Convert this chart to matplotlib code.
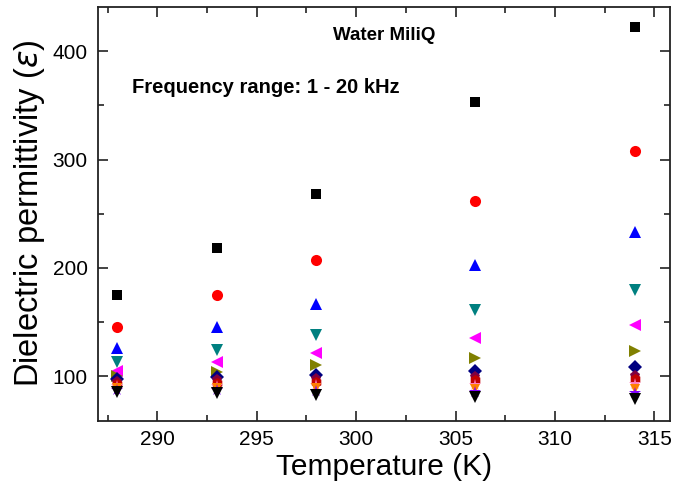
import matplotlib.pyplot as plt
from matplotlib.ticker import MultipleLocator

temps = [288, 293, 298, 306, 314]

# dielectric permittivity per frequency
eps_1 = [175, 218, 268, 353, 422]
eps_2 = [145, 175, 207, 262, 308]
eps_3 = [126, 145, 167, 203, 233]
eps_4 = [113, 124, 138, 161, 180]
eps_5 = [105, 113, 121, 135, 147]
eps_6 = [100, 104, 110, 117, 123]
eps_7 = [97, 99, 101, 105, 108]
eps_8 = [95, 96, 97, 99, 100]
eps_9 = [93, 94, 95, 96, 97]
eps_10 = [91, 91, 92, 92, 93]
eps_11 = [89, 89, 89, 88, 88]
eps_12 = [87, 87, 86, 85, 84]
eps_13 = [85, 84, 83, 81, 79]

series = [eps_1, eps_2, eps_3, eps_4, eps_5, eps_6, eps_7,
          eps_8, eps_9, eps_10, eps_11, eps_12, eps_13]
colors = ["#000000", "#ff0000", "#0000ff", "#008080", "#ff00ff", "#808000",
          "#000080", "#800040", "#c00000", "#ff80c0", "#ff8000", "#8000ff",
          "#000000"]
markers = ["s", "o", "^", "v", "<", ">", "D", "p", "h", "*", "v", "*", "v"]
sizes = [7, 8, 8, 8, 8, 8, 7, 8, 8, 9, 7, 9, 8]

plt.rcParams['font.family'] = ['Liberation Sans', 'DejaVu Sans']

fig = plt.figure(figsize=(6.73, 4.93), dpi=100)
ax = fig.add_axes([0.145, 0.147, 0.851, 0.839])

for vals, c, m, s in zip(series, colors, markers, sizes):
    ax.plot(temps, vals, linestyle="none", marker=m, color=c,
            markersize=s, markeredgewidth=0)

ax.set_xlim(287, 315.8)
ax.set_ylim(59, 441)
ax.xaxis.set_major_locator(MultipleLocator(5))
ax.xaxis.set_minor_locator(MultipleLocator(2.5))
ax.yaxis.set_major_locator(MultipleLocator(100))
ax.yaxis.set_minor_locator(MultipleLocator(50))
ax.tick_params(which="both", direction="in", top=True, right=True,
               labelsize=15, width=1.2, color="#222222")
ax.tick_params(which="major", length=7, pad=7)
ax.tick_params(which="minor", length=4)
for sp in ax.spines.values():
    sp.set_linewidth(1.3)
    sp.set_color("#222222")

ax.set_xlabel("Temperature (K)", fontsize=21.5, labelpad=3)
ax.set_ylabel(r"Dielectric permittivity ($\varepsilon$)", fontsize=23.5,
              labelpad=4)

ax.text(0.5, 0.93, "Water MiliQ", transform=ax.transAxes, ha="center",
        va="center", fontsize=13.5, fontweight="bold")
ax.text(0.06, 0.806, "Frequency range: 1 - 20 kHz", transform=ax.transAxes,
        ha="left", va="center", fontsize=14.5, fontweight="bold")

fig.savefig("out.png", dpi=100)
